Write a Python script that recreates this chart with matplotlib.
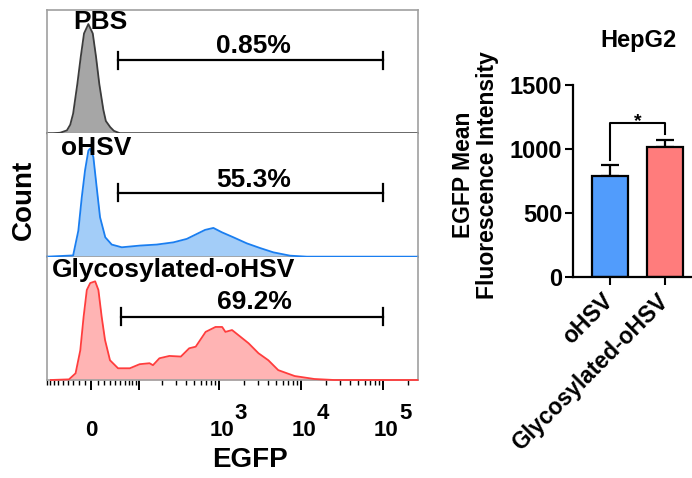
import numpy as np
import matplotlib
matplotlib.use('Agg')
import matplotlib.pyplot as plt

plt.rcParams['font.family'] = ['Liberation Sans', 'DejaVu Sans']
plt.rcParams['font.weight'] = 'bold'

# ---------------- data ----------------
samples = ['PBS', 'oHSV', 'Glycosylated-oHSV']
gate_pct = ['0.85%', '55.3%', '69.2%']
gate_range = [53, 100000]

pbs_egfp = [-79, -64, -48, -35, -29, -24, -17, -11.5, -6.3, 0.5, 7.4, 12.6, 17.9,
            24.7, 29, 37, 44, 57, 262144]
pbs_count = [0, 0, 0.5, 2.4, 7, 16, 40, 62, 81, 88.6, 81, 62, 40, 19, 10, 5, 2, 0, 0]

ohsv_egfp = [-79, -24, -15.4, -9.9, -4.7, 0.5, 3.1, 8.3, 13.7, 19.1, 28, 39.8, 60.8,
             113, 185, 298, 434, 574, 723, 911, 1150, 1588, 2302, 3328, 4814, 7650,
             12170, 262144]
ohsv_count = [0, 1, 21, 48, 70, 86, 87.6, 81, 56, 32, 15.7, 9.8, 7.6, 9, 9.8, 11.6,
              14.4, 18.4, 21.7, 23.3, 19.8, 15.7, 10.8, 7, 3.5, 0.8, 0, 0]

glyco_egfp = [-79, -38, -26, -18, -12.6, -7.4, -2, 5.8, 11, 16.4, 21.9, 30.6, 46, 73,
              101.5, 138, 153, 185, 247, 343, 434, 522, 690, 911, 1098, 1203, 1449,
              2302, 3040, 4010, 5290, 8390, 14600, 25200, 262144]
glyco_count = [0, 0.5, 5.4, 24, 51, 73, 78.6, 80, 73, 51, 32.5, 16, 9.5, 9.5, 12.8,
               13.6, 12, 17.6, 19.5, 19, 25.7, 27, 39, 43, 43, 39, 40.5, 29.8, 21.7,
               16, 8, 3.2, 0.8, 0, 0]

major_ticks = [0, 100, 1000, 10000, 100000]
minor_ticks = ([-v for v in range(10, 100, 10)] + list(range(10, 100, 10)) +
               list(range(200, 1000, 100)) + list(range(2000, 10000, 1000)) +
               list(range(20000, 100000, 10000)) + [200000])
tick_exp = [3, 4, 5]

bar_groups = ['oHSV', 'Glycosylated-oHSV']
mfi_mean = [787, 1011]
mfi_sd = [86, 62]
bracket_top = 1206
bracket_legs = [917, 1120]
mfi_ticks = [0, 500, 1000, 1500]

# ---------------- style ----------------
W = 56.4
def fwd(v):
    return np.arcsinh(np.asarray(v, float) / W)
def inv(u):
    return W * np.sinh(np.asarray(u, float))

fills = ['#a6a6a6', '#a3cdf8', '#ffb4b4']
edges = ['#3c3c3c', '#1a7ef0', '#ff3d3d']
bar_colors = ['#519cfc', '#ff7c7c']
frame = '#a0a0a0'

FW, FH = 692, 478
fig = plt.figure(figsize=(FW / 100, FH / 100), dpi=100)

left_px, right_px, top_px, panel_h = 47, 417.5, 10, 123.33
xs = [pbs_egfp, ohsv_egfp, glyco_egfp]
ys = [pbs_count, ohsv_count, glyco_count]
label_pos = [(0.143, 0.90, 'center'), (0.132, 0.88, 'center'), (0.0135, 0.89, 'left')]
gate_y = [(59.4, 70.5), (51.9, 61.8), (51.3, 63.0)]

axes = []
for i in range(3):
    b = 1 - (top_px + (i + 1) * panel_h) / FH
    ax = fig.add_axes([left_px / FW, b, (right_px - left_px) / FW, panel_h / FH])
    ax.set_xscale('function', functions=(fwd, inv))
    ax.set_xlim(-79, 262144)
    ax.set_ylim(0, 100)
    ax.fill_between(xs[i], ys[i], 0, color=fills[i], lw=0, zorder=1)
    ax.plot(xs[i], ys[i], color=edges[i], lw=1.3, zorder=3, clip_on=False)
    for sp in ax.spines.values():
        sp.set_color(frame)
        sp.set_linewidth(1.2)
    if i > 0:
        ax.spines['top'].set_visible(False)
    ax.set_yticks([])
    lx, ly, ha = label_pos[i]
    ax.text(lx, ly, samples[i], transform=ax.transAxes, ha=ha, va='center',
            fontsize=19, fontweight='bold', zorder=5)
    yb, yt = gate_y[i]
    ax.plot(gate_range, [yb, yb], color='black', lw=1.6, zorder=4)
    for gx in gate_range:
        ax.plot([gx, gx], [yb - 6.9, yb + 6.9], color='black', lw=1.6, zorder=4)
    ax.text(2750, yt, gate_pct[i], ha='center', va='center', fontsize=19,
            fontweight='bold', zorder=5)
    if i < 2:
        ax.set_xticks([])
        ax.set_xticks([], minor=True)
    axes.append(ax)

axb = axes[-1]
axb.set_xticks(major_ticks)
axb.set_xticks(minor_ticks, minor=True)
axb.set_xticklabels([])
axb.tick_params(axis='x', which='major', length=7.5, width=1.4, color='black', direction='out')
axb.tick_params(axis='x', which='minor', length=3.8, width=1.0, color='black', direction='out')
axb.annotate('0', xy=(0, 0), xycoords=('data', 'axes fraction'), xytext=(0, -51),
             textcoords='offset pixels', ha='center', va='center', fontsize=16,
             fontweight='bold')
for e in tick_exp:
    axb.annotate('10', xy=(10 ** e, 0), xycoords=('data', 'axes fraction'),
                 xytext=(3, -51), textcoords='offset pixels', ha='center',
                 va='center', fontsize=16, fontweight='bold')
    axb.annotate(str(e), xy=(10 ** e, 0), xycoords=('data', 'axes fraction'),
                 xytext=(16, -34), textcoords='offset pixels', ha='left',
                 va='center', fontsize=16, fontweight='bold')

fig.text(24 / FW, 1 - 200 / FH, 'Count', rotation=90, ha='center', va='center',
         fontsize=20, fontweight='bold')
fig.text(250 / FW, 1 - 460 / FH, 'EGFP', ha='center', va='center',
         fontsize=20, fontweight='bold')

# ---------------- bar chart ----------------
ax2 = fig.add_axes([573.3 / FW, 1 - 276.7 / FH, (FW - 573.3) / FW, (276.7 - 85) / FH])
xpos = np.arange(len(bar_groups))
ax2.errorbar(xpos, mfi_mean, yerr=[[0] * len(mfi_sd), mfi_sd], fmt='none',
             ecolor='black', elinewidth=1.6, capsize=6.8, capthick=1.6, zorder=1)
ax2.bar(xpos, mfi_mean, width=0.646, color=bar_colors, edgecolor='black',
        linewidth=1.6, zorder=2)
ax2.plot([0, 0, 1, 1], [bracket_legs[0], bracket_top, bracket_top, bracket_legs[1]],
         color='black', lw=1.5)
ax2.text(0.5, 1181, '*', ha='center', va='baseline', fontsize=14, fontweight='bold')
ax2.set_xlim(-0.65, 1.48)
ax2.set_ylim(0, 1500)
ax2.set_yticks(mfi_ticks)
ax2.set_yticklabels([str(v) for v in mfi_ticks], fontsize=17, fontweight='bold')
ax2.set_xticks(xpos)
ax2.set_xticklabels(bar_groups, rotation=45, ha='right', va='center',
                    rotation_mode='anchor', fontsize=16.5, fontweight='bold')
ax2.tick_params(axis='y', length=6, width=1.5, pad=2)
ax2.tick_params(axis='x', length=6, width=1.5, pad=9)
for s in ['top', 'right']:
    ax2.spines[s].set_visible(False)
for s in ['left', 'bottom']:
    ax2.spines[s].set_linewidth(1.6)

fig.text(475.5 / FW, 1 - 175 / FH, 'EGFP Mean\nFluorescence Intensity', rotation=90,
         ha='center', va='center', multialignment='center', linespacing=1.05,
         fontsize=16.5, fontweight='bold')
fig.text(638 / FW, 1 - 40 / FH, 'HepG2', ha='center', va='center', fontsize=17,
         fontweight='bold')

fig.savefig('out.png', dpi=100)
